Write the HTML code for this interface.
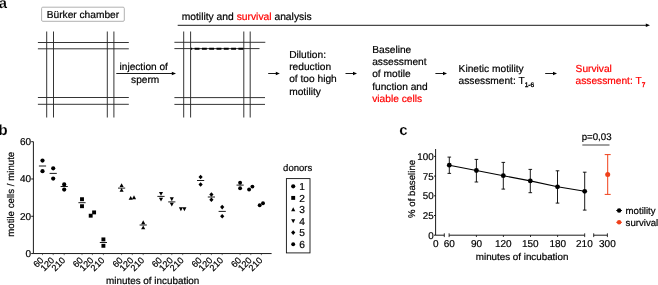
<!DOCTYPE html>
<html><head><meta charset="utf-8"><title>figure</title>
<style>
html,body{margin:0;padding:0;background:#fff;}
body{width:658px;height:285px;overflow:hidden;}
text{stroke:#000;stroke-width:0.2px;}
.r{fill:#f00;stroke:#f00;}
svg{display:block;will-change:transform;text-rendering:geometricPrecision;font-family:"Liberation Sans",sans-serif;}

</style></head><body>
<svg width="658" height="285" viewBox="0 0 658 285">
<rect width="658" height="285" fill="#fff"/>

<g id="pa">
<text x="-1.2" y="7.8" font-size="14.8" font-weight="bold" style="stroke:#fff;stroke-width:0.2px">a</text>
<rect x="41.6" y="7.2" width="82.7" height="14.1" rx="1.2" fill="#fff" stroke="#a8a8a8" stroke-width="0.9"/>
<text x="46.7" y="17.75" font-size="10.2">Bürker chamber</text>
<g stroke="#2a2a2a" stroke-width="0.95" fill="none">
<line x1="46.7" y1="31.5" x2="46.7" y2="117.5"/>
<line x1="53.5" y1="31.5" x2="53.5" y2="117.5"/>
<line x1="107.3" y1="31.5" x2="107.3" y2="117.5"/>
<line x1="113.9" y1="31.5" x2="113.9" y2="117.5"/>
<line x1="37.9" y1="42.5" x2="128.8" y2="42.5"/>
<line x1="37.9" y1="48.8" x2="128.8" y2="48.8"/>
<line x1="37.9" y1="97.5" x2="128.8" y2="97.5"/>
<line x1="37.9" y1="104.3" x2="128.8" y2="104.3"/>
<line x1="183.7" y1="31.5" x2="183.7" y2="117.5"/>
<line x1="190.6" y1="31.5" x2="190.6" y2="117.5"/>
<line x1="243.8" y1="31.5" x2="243.8" y2="117.5"/>
<line x1="250.2" y1="31.5" x2="250.2" y2="117.5"/>
<line x1="174.4" y1="42.3" x2="265.3" y2="42.3"/>
<line x1="174.4" y1="48.6" x2="259.5" y2="48.6"/>
<line x1="174.4" y1="97.6" x2="265" y2="97.6"/>
<line x1="174.4" y1="104.4" x2="265" y2="104.4"/>
</g>
<line x1="190.9" y1="48.7" x2="243.8" y2="48.7" stroke="#000" stroke-width="2" stroke-dasharray="4.9 2.4" stroke-dashoffset="3.6"/>
<line x1="177.7" y1="25.3" x2="647" y2="25.3" stroke="#000" stroke-width="0.9"/>
<path d="M650 25.3 L645.8 23.5 L645.8 27.1 Z" fill="#000"/>
<text x="181.7" y="19.7" font-size="10.3">motility and <tspan class="r">survival</tspan> analysis</text>
<line x1="116.3" y1="73.5" x2="173" y2="73.5" stroke="#000" stroke-width="0.9"/>
<path d="M176 73.5 L171.8 71.8 L171.8 75.2 Z" fill="#000"/>
<text x="119.5" y="70.35" font-size="10.15">injection of</text>
<text x="131.1" y="82.85" font-size="10.15">sperm</text>
<line x1="268.2" y1="73.5" x2="277.3" y2="73.5" stroke="#000" stroke-width="0.9"/>
<path d="M279.8 73.5 L275.8 71.8 L275.8 75.2 Z" fill="#000"/>
<line x1="345.5" y1="73.5" x2="354.5" y2="73.5" stroke="#000" stroke-width="0.9"/>
<path d="M357 73.5 L353 71.8 L353 75.2 Z" fill="#000"/>
<line x1="435.4" y1="73.5" x2="444.5" y2="73.5" stroke="#000" stroke-width="0.9"/>
<path d="M447 73.5 L443 71.8 L443 75.2 Z" fill="#000"/>
<line x1="545.2" y1="73.5" x2="554.5" y2="73.5" stroke="#000" stroke-width="0.9"/>
<path d="M557 73.5 L553 71.8 L553 75.2 Z" fill="#000"/>
<text x="289.2" y="57.85" font-size="10.2">Dilution:</text>
<text x="289.2" y="70.15" font-size="10.2">reduction</text>
<text x="289.2" y="82.45" font-size="10.2">of too high</text>
<text x="289.2" y="94.75" font-size="10.2">motility</text>
<text x="372.2" y="52.65" font-size="10.2">Baseline</text>
<text x="372.2" y="64.95" font-size="10.2">assessment</text>
<text x="372.2" y="77.25" font-size="10.2">of motile</text>
<text x="372.2" y="89.55" font-size="10.2">function and</text>
<text x="372.2" y="101.85" font-size="10.2" class="r">viable cells</text>
<text x="458.6" y="71.9" font-size="10.2">Kinetic motility</text>
<text x="458.6" y="84.0" font-size="10.2">assessment: T<tspan font-size="6.6" dy="2.5" style="stroke-width:0.35px">1-6</tspan></text>
<text x="575.6" y="71.9" font-size="10.2" class="r">Survival</text>
<text x="575.6" y="84.0" font-size="10.2" class="r">assessment: T<tspan font-size="6.6" dy="2.5" style="stroke-width:0.35px">7</tspan></text>
</g>
<g id="pb">
<text x="-1.6" y="134.8" font-size="15" font-weight="bold" style="stroke:#fff;stroke-width:0.2px">b</text>
<path d="M33.4 141.7 V253.55 H271.6" fill="none" stroke="#000" stroke-width="0.9"/>
<line x1="31.2" y1="253.55" x2="33.4" y2="253.55" stroke="#000" stroke-width="0.9"/>
<text x="31.1" y="257.05" font-size="10" text-anchor="end">0</text>
<line x1="31.2" y1="216.27" x2="33.4" y2="216.27" stroke="#000" stroke-width="0.9"/>
<text x="31.1" y="219.77" font-size="10" text-anchor="end">20</text>
<line x1="31.2" y1="178.98" x2="33.4" y2="178.98" stroke="#000" stroke-width="0.9"/>
<text x="31.1" y="182.48" font-size="10" text-anchor="end">40</text>
<line x1="31.2" y1="141.70" x2="33.4" y2="141.70" stroke="#000" stroke-width="0.9"/>
<text x="31.1" y="145.20" font-size="10" text-anchor="end">60</text>
<text transform="translate(13.8,194.3) rotate(-90)" font-size="9.7" text-anchor="middle">motile cells / minute</text>
<text x="106" y="283.7" font-size="9.9">minutes of incubation</text>
<line x1="38.9" y1="166.0" x2="46.1" y2="166.0" stroke="#000" stroke-width="0.9"/>
<circle cx="42.5" cy="160.6" r="2.1"/>
<circle cx="42.5" cy="171.2" r="2.1"/>
<line x1="49.6" y1="173.4" x2="56.800000000000004" y2="173.4" stroke="#000" stroke-width="0.9"/>
<circle cx="53.2" cy="168.3" r="2.1"/>
<circle cx="53.2" cy="178.6" r="2.1"/>
<line x1="60.6" y1="186.5" x2="67.8" y2="186.5" stroke="#000" stroke-width="0.9"/>
<circle cx="64.2" cy="184.4" r="2.1"/>
<circle cx="64.2" cy="189.6" r="2.1"/>
<line x1="78.4" y1="202.7" x2="85.6" y2="202.7" stroke="#000" stroke-width="0.9"/>
<rect x="80.05" y="197.25" width="3.9" height="3.9"/>
<rect x="80.05" y="204.25" width="3.9" height="3.9"/>
<rect x="88.75" y="213.75" width="3.9" height="3.9"/>
<rect x="92.15" y="210.45" width="3.9" height="3.9"/>
<line x1="99.80000000000001" y1="242.5" x2="107.0" y2="242.5" stroke="#000" stroke-width="0.9"/>
<rect x="101.45" y="237.45" width="3.9" height="3.9"/>
<rect x="101.45" y="243.85" width="3.9" height="3.9"/>
<line x1="118.0" y1="188.1" x2="125.19999999999999" y2="188.1" stroke="#000" stroke-width="0.9"/>
<path d="M121.6 183.25 L123.65 187.05 L119.55 187.05 Z"/>
<path d="M121.6 188.05 L123.65 191.85 L119.55 191.85 Z"/>
<path d="M130.7 195.95 L132.75 199.75 L128.65 199.75 Z"/>
<path d="M134 195.35 L136.05 199.15 L131.95 199.15 Z"/>
<line x1="139.6" y1="225" x2="146.79999999999998" y2="225" stroke="#000" stroke-width="0.9"/>
<path d="M143.2 220.35 L145.25 224.15 L141.15 224.15 Z"/>
<path d="M143.2 225.55 L145.25 229.35 L141.15 229.35 Z"/>
<line x1="157.4" y1="196.4" x2="164.6" y2="196.4" stroke="#000" stroke-width="0.9"/>
<path d="M161 195.75 L163.05 191.95 L158.95 191.95 Z"/>
<path d="M161 201.45 L163.05 197.65 L158.95 197.65 Z"/>
<line x1="168.20000000000002" y1="201.9" x2="175.4" y2="201.9" stroke="#000" stroke-width="0.9"/>
<path d="M171.8 201.15 L173.85 197.35 L169.75 197.35 Z"/>
<path d="M171.8 206.55 L173.85 202.75 L169.75 202.75 Z"/>
<path d="M180.9 211.15 L182.95 207.35 L178.85 207.35 Z"/>
<path d="M184.4 211.15 L186.45 207.35 L182.35 207.35 Z"/>
<line x1="197.0" y1="180.5" x2="204.2" y2="180.5" stroke="#000" stroke-width="0.9"/>
<path d="M200.6 174.70 L202.70 177 L200.6 179.30 L198.50 177 Z"/>
<path d="M200.6 182.20 L202.70 184.5 L200.6 186.80 L198.50 184.5 Z"/>
<line x1="207.8" y1="197" x2="215.0" y2="197" stroke="#000" stroke-width="0.9"/>
<path d="M211.4 192.20 L213.50 194.5 L211.4 196.80 L209.30 194.5 Z"/>
<path d="M211.4 197.40 L213.50 199.7 L211.4 202.00 L209.30 199.7 Z"/>
<line x1="218.6" y1="211.4" x2="225.79999999999998" y2="211.4" stroke="#000" stroke-width="0.9"/>
<path d="M222.2 204.80 L224.30 207.1 L222.2 209.40 L220.10 207.1 Z"/>
<path d="M222.2 213.90 L224.30 216.2 L222.2 218.50 L220.10 216.2 Z"/>
<line x1="236.5" y1="185.1" x2="243.7" y2="185.1" stroke="#000" stroke-width="0.9"/>
<circle cx="240.1" cy="182.8" r="1.95"/>
<circle cx="240.1" cy="188.2" r="1.95"/>
<circle cx="249.1" cy="189.5" r="1.95"/>
<circle cx="252.4" cy="186.6" r="1.95"/>
<circle cx="259.7" cy="205.2" r="1.95"/>
<circle cx="263" cy="203.2" r="1.95"/>
<line x1="42.5" y1="253.55" x2="42.5" y2="255.15" stroke="#333" stroke-width="0.7"/>
<text transform="translate(44.2,260.9) rotate(-45)" font-size="9.1" text-anchor="end">60</text>
<line x1="53.2" y1="253.55" x2="53.2" y2="255.15" stroke="#333" stroke-width="0.7"/>
<text transform="translate(54.9,260.9) rotate(-45)" font-size="9.1" text-anchor="end">120</text>
<line x1="64.2" y1="253.55" x2="64.2" y2="255.15" stroke="#333" stroke-width="0.7"/>
<text transform="translate(65.9,260.9) rotate(-45)" font-size="9.1" text-anchor="end">210</text>
<line x1="82.0" y1="253.55" x2="82.0" y2="255.15" stroke="#333" stroke-width="0.7"/>
<text transform="translate(83.7,260.9) rotate(-45)" font-size="9.1" text-anchor="end">60</text>
<line x1="92.4" y1="253.55" x2="92.4" y2="255.15" stroke="#333" stroke-width="0.7"/>
<text transform="translate(94.1,260.9) rotate(-45)" font-size="9.1" text-anchor="end">120</text>
<line x1="103.4" y1="253.55" x2="103.4" y2="255.15" stroke="#333" stroke-width="0.7"/>
<text transform="translate(105.1,260.9) rotate(-45)" font-size="9.1" text-anchor="end">210</text>
<line x1="121.6" y1="253.55" x2="121.6" y2="255.15" stroke="#333" stroke-width="0.7"/>
<text transform="translate(123.3,260.9) rotate(-45)" font-size="9.1" text-anchor="end">60</text>
<line x1="132.3" y1="253.55" x2="132.3" y2="255.15" stroke="#333" stroke-width="0.7"/>
<text transform="translate(134.0,260.9) rotate(-45)" font-size="9.1" text-anchor="end">120</text>
<line x1="143.2" y1="253.55" x2="143.2" y2="255.15" stroke="#333" stroke-width="0.7"/>
<text transform="translate(144.9,260.9) rotate(-45)" font-size="9.1" text-anchor="end">210</text>
<line x1="161.0" y1="253.55" x2="161.0" y2="255.15" stroke="#333" stroke-width="0.7"/>
<text transform="translate(162.7,260.9) rotate(-45)" font-size="9.1" text-anchor="end">60</text>
<line x1="171.8" y1="253.55" x2="171.8" y2="255.15" stroke="#333" stroke-width="0.7"/>
<text transform="translate(173.5,260.9) rotate(-45)" font-size="9.1" text-anchor="end">120</text>
<line x1="182.7" y1="253.55" x2="182.7" y2="255.15" stroke="#333" stroke-width="0.7"/>
<text transform="translate(184.3,260.9) rotate(-45)" font-size="9.1" text-anchor="end">210</text>
<line x1="200.6" y1="253.55" x2="200.6" y2="255.15" stroke="#333" stroke-width="0.7"/>
<text transform="translate(202.3,260.9) rotate(-45)" font-size="9.1" text-anchor="end">60</text>
<line x1="211.4" y1="253.55" x2="211.4" y2="255.15" stroke="#333" stroke-width="0.7"/>
<text transform="translate(213.1,260.9) rotate(-45)" font-size="9.1" text-anchor="end">120</text>
<line x1="222.2" y1="253.55" x2="222.2" y2="255.15" stroke="#333" stroke-width="0.7"/>
<text transform="translate(223.9,260.9) rotate(-45)" font-size="9.1" text-anchor="end">210</text>
<line x1="240.1" y1="253.55" x2="240.1" y2="255.15" stroke="#333" stroke-width="0.7"/>
<text transform="translate(241.8,260.9) rotate(-45)" font-size="9.1" text-anchor="end">60</text>
<line x1="250.8" y1="253.55" x2="250.8" y2="255.15" stroke="#333" stroke-width="0.7"/>
<text transform="translate(252.4,260.9) rotate(-45)" font-size="9.1" text-anchor="end">120</text>
<line x1="261.4" y1="253.55" x2="261.4" y2="255.15" stroke="#333" stroke-width="0.7"/>
<text transform="translate(263.1,260.9) rotate(-45)" font-size="9.1" text-anchor="end">210</text>
<text x="283.1" y="171.4" font-size="9.5">donors</text>
<rect x="286.4" y="178.6" width="23.6" height="74.3" fill="none" stroke="#111" stroke-width="0.9"/>
<circle cx="293.2" cy="186.3" r="2.1"/>
<text x="299.2" y="189.9" font-size="10.2">1</text>
<rect x="291.25" y="195.95" width="3.9" height="3.9"/>
<text x="299.2" y="201.5" font-size="10.2">2</text>
<path d="M293.2 207.35 L295.25 211.15 L291.15 211.15 Z"/>
<text x="299.2" y="213.1" font-size="10.2">3</text>
<path d="M293.2 223.15 L295.25 219.35 L291.15 219.35 Z"/>
<text x="299.2" y="224.6" font-size="10.2">4</text>
<path d="M293.2 230.30 L295.30 232.6 L293.2 234.90 L291.10 232.6 Z"/>
<text x="299.2" y="236.2" font-size="10.2">5</text>
<circle cx="293.2" cy="244.2" r="1.95"/>
<text x="299.2" y="247.8" font-size="10.2">6</text>
</g>
<g id="pc">
<text x="399.2" y="135" font-size="15" font-weight="bold" style="stroke:#fff;stroke-width:0.2px">c</text>
<path d="M435.6 149 V235.2 H444.3 M449.1 235.2 H584.7 M593.7 235.2 H607.4" fill="none" stroke="#000" stroke-width="0.9"/>
<line x1="444.3" y1="233.29999999999998" x2="444.3" y2="237.1" stroke="#000" stroke-width="0.8"/>
<line x1="449.1" y1="233.29999999999998" x2="449.1" y2="237.1" stroke="#000" stroke-width="0.8"/>
<line x1="584.7" y1="233.29999999999998" x2="584.7" y2="237.1" stroke="#000" stroke-width="0.8"/>
<line x1="593.7" y1="233.29999999999998" x2="593.7" y2="237.1" stroke="#000" stroke-width="0.8"/>
<line x1="607.4" y1="233.29999999999998" x2="607.4" y2="237.1" stroke="#000" stroke-width="0.8"/>
<line x1="476.4" y1="235.2" x2="476.4" y2="237.0" stroke="#000" stroke-width="0.8"/>
<line x1="503.4" y1="235.2" x2="503.4" y2="237.0" stroke="#000" stroke-width="0.8"/>
<line x1="530.5" y1="235.2" x2="530.5" y2="237.0" stroke="#000" stroke-width="0.8"/>
<line x1="557.6" y1="235.2" x2="557.6" y2="237.0" stroke="#000" stroke-width="0.8"/>
<line x1="434.0" y1="235.20" x2="435.6" y2="235.20" stroke="#000" stroke-width="0.9"/>
<text x="433.6" y="238.70" font-size="9.8" text-anchor="end">0</text>
<line x1="434.0" y1="215.50" x2="435.6" y2="215.50" stroke="#000" stroke-width="0.9"/>
<text x="433.6" y="219.00" font-size="9.8" text-anchor="end">25</text>
<line x1="434.0" y1="195.80" x2="435.6" y2="195.80" stroke="#000" stroke-width="0.9"/>
<text x="433.6" y="199.30" font-size="9.8" text-anchor="end">50</text>
<line x1="434.0" y1="176.10" x2="435.6" y2="176.10" stroke="#000" stroke-width="0.9"/>
<text x="433.6" y="179.60" font-size="9.8" text-anchor="end">75</text>
<line x1="434.0" y1="156.40" x2="435.6" y2="156.40" stroke="#000" stroke-width="0.9"/>
<text x="433.6" y="159.90" font-size="9.8" text-anchor="end">100</text>
<text x="435.8" y="246.5" font-size="10" text-anchor="middle">0</text>
<text x="449.2" y="246.5" font-size="10" text-anchor="middle">60</text>
<text x="476.5" y="246.5" font-size="10" text-anchor="middle">90</text>
<text x="503.3" y="246.5" font-size="10" text-anchor="middle">120</text>
<text x="530.3" y="246.5" font-size="10" text-anchor="middle">150</text>
<text x="557.8" y="246.5" font-size="10" text-anchor="middle">180</text>
<text x="584.4" y="246.5" font-size="10" text-anchor="middle">210</text>
<text x="607.4" y="246.5" font-size="10" text-anchor="middle">300</text>
<text transform="translate(414.5,188.9) rotate(-90)" font-size="9.7" text-anchor="middle">% of baseline</text>
<text x="475.8" y="260" font-size="9.8">minutes of incubation</text>
<polyline points="449.3,165.2 476.4,170.5 503.3,175.7 530.3,180.9 557.5,186.8 584.7,191.3" fill="none" stroke="#000" stroke-width="1.1"/>
<path d="M449.3 157.1 V173.4 M447.5 157.1 H451.1 M447.5 173.4 H451.1" stroke="#000" stroke-width="0.9" fill="none"/>
<circle cx="449.3" cy="165.2" r="2.4"/>
<path d="M476.4 159.4 V182 M474.59999999999997 159.4 H478.2 M474.59999999999997 182 H478.2" stroke="#000" stroke-width="0.9" fill="none"/>
<circle cx="476.4" cy="170.5" r="2.4"/>
<path d="M503.3 162.4 V189.1 M501.5 162.4 H505.1 M501.5 189.1 H505.1" stroke="#000" stroke-width="0.9" fill="none"/>
<circle cx="503.3" cy="175.7" r="2.4"/>
<path d="M530.3 169.4 V192.7 M528.5 169.4 H532.0999999999999 M528.5 192.7 H532.0999999999999" stroke="#000" stroke-width="0.9" fill="none"/>
<circle cx="530.3" cy="180.9" r="2.4"/>
<path d="M557.5 170.8 V203.1 M555.7 170.8 H559.3 M555.7 203.1 H559.3" stroke="#000" stroke-width="0.9" fill="none"/>
<circle cx="557.5" cy="186.8" r="2.4"/>
<path d="M584.7 172.2 V210.1 M582.9000000000001 172.2 H586.5 M582.9000000000001 210.1 H586.5" stroke="#000" stroke-width="0.9" fill="none"/>
<circle cx="584.7" cy="191.3" r="2.4"/>
<path d="M607.7 154.6 V194.4 M604.7 154.6 H610.7 M604.7 194.4 H610.7" stroke="#f0401a" stroke-width="1" fill="none"/>
<circle cx="607.7" cy="174.4" r="2.5" fill="#f0401a"/>
<text x="581.7" y="139.8" font-size="9.7">p=0,03</text>
<line x1="582.3" y1="145" x2="609.5" y2="145" stroke="#808080" stroke-width="1.5"/>
<line x1="616.2" y1="210.5" x2="622" y2="210.5" stroke="#000" stroke-width="0.9"/><circle cx="619.1" cy="210.5" r="2.2"/>
<line x1="616.2" y1="222.3" x2="622" y2="222.3" stroke="#f0401a" stroke-width="0.9"/><circle cx="619.1" cy="222.3" r="2.2" fill="#f0401a"/>
<text x="625.6" y="213.8" font-size="9.65">motility</text>
<text x="625.6" y="225.6" font-size="9.65">survival</text>
</g>
</svg></body></html>
